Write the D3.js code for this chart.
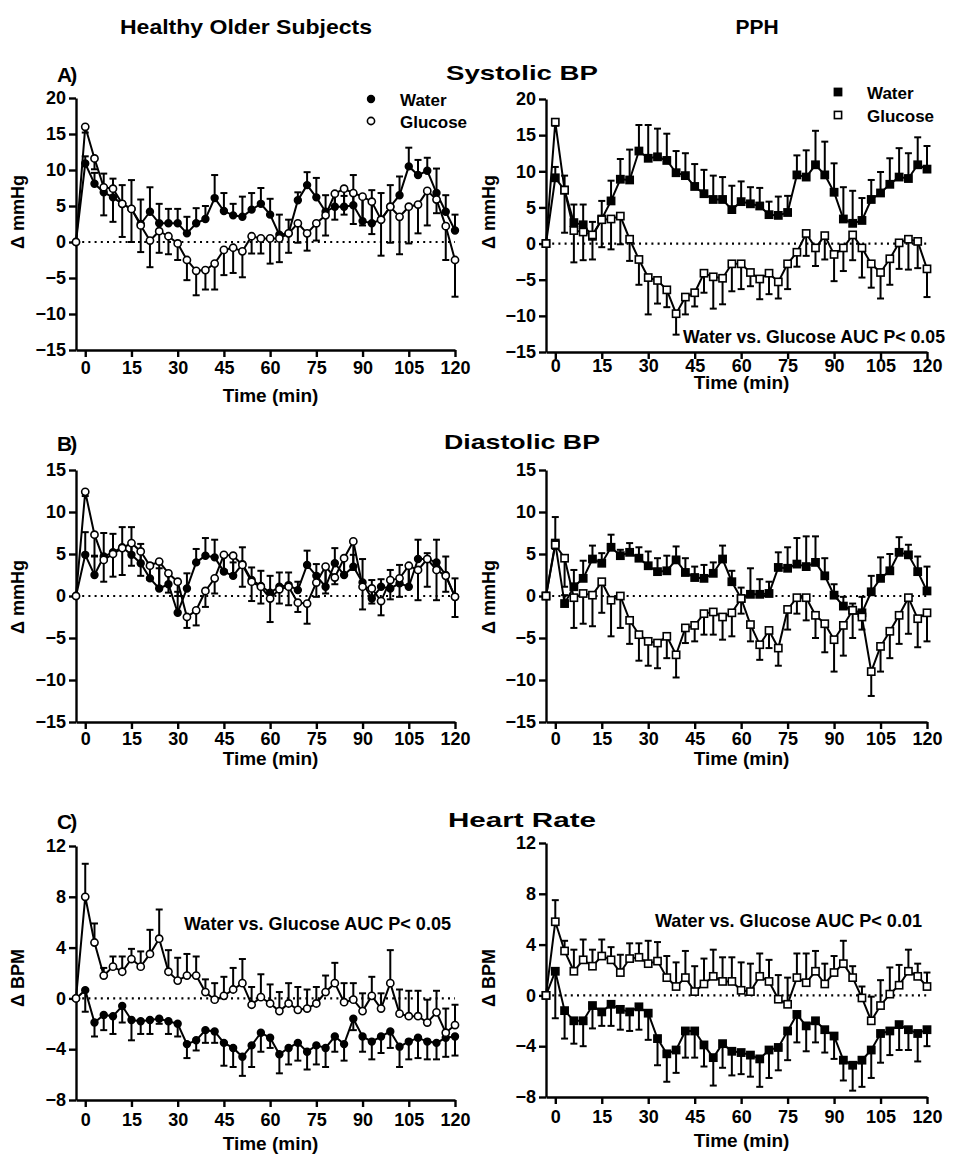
<!DOCTYPE html>
<html><head><meta charset="utf-8">
<script src="https://cdn.jsdelivr.net/npm/d3@7"></script>
<style>
body{margin:0;background:#fff;}
svg text{font-family:"Liberation Sans",Arial,sans-serif;font-weight:bold;fill:#000;}
</style></head><body>
<svg id="chart" width="957" height="1160"></svg>
<script>
// ---------------- DATA ----------------
const times = [-3,0,3,6,9,12,15,18,21,24,27,30,33,36,39,42,45,48,51,54,57,60,63,66,69,72,75,78,81,84,87,90,93,96,99,102,105,108,111,114,117,120];
const xTicks = [0,15,30,45,60,75,90,105,120];
const sbpTicks = [-15,-10,-5,0,5,10,15,20];
const dbpTicks = [-15,-10,-5,0,5,10,15];
const hrTicks = [-8,-4,0,4,8,12];
const seriesNames = ["Water","Glucose"];
const columnTitles = ["Healthy Older Subjects","PPH"];
const rowTitles = ["Systolic  BP","Diastolic BP","Heart  Rate"];
const rowLetters = ["A)","B)","C)"];
const auc = ["Water vs. Glucose AUC P< 0.05","Water vs. Glucose AUC P< 0.05","Water vs. Glucose AUC P< 0.01"];

// Systolic BP - healthy older
const sbpHealthyWater   = [0,10.9,8.1,6.9,6.2,5.3,4.6,2.5,4.2,2.6,2.6,2.6,1.2,2.6,3.2,6.1,4.3,3.7,3.5,4.5,5.3,3.8,1.0,1.2,5.8,7.9,6.2,4.2,4.9,4.9,5.1,2.9,2.6,3.1,4.9,6.5,10.5,9.3,9.9,6.8,4.2,1.6];
const sbpHealthyWaterErr= [0,1.0,1.5,2.6,2.6,2.6,4.0,3.4,3.4,2.7,2.0,2.0,2.3,2.1,1.8,3.2,2.5,1.6,2.8,2.3,2.2,2.2,2.8,1.9,1.1,1.8,2.7,2.3,2.0,1.5,4.2,3.3,4.6,3.7,3.0,2.6,2.6,2.1,1.8,3.4,2.3,2.2];
const sbpHealthyGluc    = [0,16.0,11.6,7.6,7.4,5.3,4.6,2.3,0.2,1.5,0.8,-0.2,-2.5,-4.0,-3.9,-3.0,-1.1,-0.8,-1.3,0.8,0.5,0.5,0.5,1.2,2.6,1.2,2.6,3.7,6.7,7.4,6.8,6.3,5.6,3.1,4.9,3.5,4.9,5.2,7.1,5.9,2.2,-2.5];
const sbpHealthyGlucErr = [0,0.8,1.5,3.9,4.6,4.6,4.6,3.7,3.7,3.0,2.5,2.3,2.8,3.4,2.7,3.6,3.5,3.5,3.6,2.4,2.1,3.5,3.3,2.7,2.7,2.4,2.4,2.8,3.6,3.6,4.3,4.0,4.5,5.0,5.0,5.2,5.1,4.0,4.8,1.9,4.7,5.1];
// Systolic BP - PPH
const sbpPphWater   = [0,9.1,7.4,2.9,2.6,1.0,3.4,5.9,8.9,8.8,12.8,11.8,12.0,11.5,9.8,9.4,7.9,6.9,6.1,6.1,4.7,5.8,5.5,5.2,4.0,3.9,4.3,9.5,9.2,10.9,9.5,7.1,3.4,2.8,3.2,6.1,7.0,8.2,9.2,9.0,10.9,10.3];
const sbpPphWaterErr= [0,1.5,2.0,2.5,2.8,2.0,2.5,2.8,2.8,4.2,3.6,4.6,3.9,3.7,3.0,3.1,3.1,3.3,3.3,3.1,3.3,2.8,2.3,2.5,1.8,2.6,2.3,2.7,3.7,4.7,4.6,4.0,4.4,4.5,3.1,2.7,2.9,3.6,4.0,3.5,3.8,3.2];
const sbpPphGluc    = [0,16.8,7.4,1.8,1.6,1.2,3.3,3.4,3.8,0.6,-2.2,-4.7,-5.1,-6.4,-9.7,-7.4,-6.8,-4.1,-4.6,-4.8,-2.8,-2.8,-4.0,-4.9,-4.1,-5.3,-2.8,-1.2,1.4,-0.6,1.1,-1.5,-0.6,1.2,-0.6,-2.8,-4.0,-2.1,0.1,0.6,0.3,-3.5];
const sbpPphGlucErr = [0,0.5,5.9,4.4,3.9,3.4,3.8,4.2,3.9,3.0,3.5,5.1,3.2,2.4,2.9,2.4,1.9,2.7,4.4,3.6,3.8,3.5,1.9,2.8,2.9,2.3,3.5,2.0,3.1,2.5,3.3,3.7,3.2,3.5,4.1,3.3,3.6,3.6,3.6,4.2,3.7,3.9];
// Diastolic BP - healthy older
const dbpHealthyWater   = [0,4.9,2.5,4.7,5.2,5.8,4.9,3.9,2.1,0.9,1.4,-2.0,0.9,4.0,4.8,4.6,2.9,2.4,3.8,1.9,1.2,0.4,1.1,1.3,0.7,3.7,2.4,1.1,3.9,2.5,3.5,1.6,-0.3,1.1,0.9,1.5,1.1,4.4,4.4,4.0,2.5,-0.1];
const dbpHealthyWaterErr= [0,2.7,2.3,2.8,2.2,2.4,3.3,2.3,1.8,2.4,1.4,2.5,1.8,1.6,2.1,2.1,2.0,1.6,2.0,1.5,1.8,2.0,1.7,1.5,1.0,1.7,1.4,2.6,1.8,2.0,1.4,2.8,2.2,0.9,2.2,2.2,2.2,2.3,0.7,2.7,2.2,2.2];
const dbpHealthyGluc    = [0,12.4,7.3,4.3,5.0,5.7,6.3,5.3,3.6,4.1,2.7,1.7,-2.5,-1.7,0.6,2.1,4.9,4.8,3.7,1.7,1.1,-0.3,0.8,1.1,-0.8,-0.9,1.6,3.5,2.2,4.5,6.5,1.1,0.9,-0.6,1.9,2.1,3.6,3.1,4.4,3.1,2.4,-0.1];
const dbpHealthyGlucErr = [0,0.5,2.6,2.6,2.7,3.2,2.7,2.9,1.7,3.0,2.3,1.7,1.3,1.8,1.9,1.8,1.8,2.5,2.6,2.3,2.0,2.8,1.7,2.2,1.1,2.4,1.7,3.2,0.8,2.0,3.4,2.7,1.8,1.7,2.3,2.2,2.5,3.6,3.3,3.6,1.9,2.4];
// Diastolic BP - PPH
const dbpPphWater   = [0,6.3,-0.9,1.1,2.1,4.4,3.9,5.8,4.8,5.2,4.5,3.6,2.9,3.0,4.3,2.8,2.2,2.1,2.7,4.4,1.7,-0.3,0.2,0.2,0.3,3.4,3.3,3.8,3.5,4.0,2.4,0.1,-1.2,-1.7,-2.0,0.5,2.1,3.0,5.2,4.9,2.9,0.6];
const dbpPphWaterErr= [0,3.1,1.0,2.0,2.1,1.6,1.2,1.5,0.7,1.1,1.3,1.7,1.6,1.8,1.6,1.7,1.3,1.6,1.3,1.6,1.3,1.3,3.1,1.8,1.4,1.8,2.5,3.1,3.6,3.1,2.1,1.3,1.1,0.8,1.9,1.9,2.5,2.0,1.8,1.2,1.8,2.9];
const dbpPphGluc    = [0,6.1,4.5,-0.2,0.3,0.1,1.7,-0.5,0,-2.9,-4.6,-5.4,-5.6,-4.8,-7.0,-3.8,-3.5,-2.1,-1.9,-2.5,-2.0,-0.3,-3.4,-5.8,-4.1,-6.2,-1.6,-0.2,-0.2,-2.3,-3.3,-5.2,-3.5,-1.7,-2.5,-9.0,-6.0,-4.2,-2.3,-0.2,-2.7,-2.0];
const dbpPphGlucErr = [0,0.5,3.4,3.6,3.6,3.7,3.7,4.3,3.8,2.8,3.1,2.9,3.0,2.6,2.7,1.8,1.9,2.5,2.7,2.7,2.8,1.8,2.0,1.8,2.1,2.1,2.4,1.9,2.7,2.7,3.4,3.8,3.6,3.3,1.5,2.9,3.0,3.2,3.4,4.3,3.4,3.4];
// Heart rate - healthy older
const hrHealthyWater   = [0,0.65,-1.9,-1.3,-1.4,-0.6,-1.7,-1.8,-1.7,-1.6,-1.8,-2.0,-3.6,-3.3,-2.5,-2.6,-3.5,-3.9,-4.6,-3.7,-2.7,-3.1,-4.4,-3.9,-3.5,-4.2,-3.7,-3.9,-3.0,-3.6,-1.6,-3.0,-3.4,-3.0,-2.6,-3.8,-3.4,-3.1,-3.4,-3.5,-3.1,-3.0];
const hrHealthyWaterErr= [0,1.7,1.1,1.2,1.4,1.3,1.6,1.0,1.1,0.4,1.0,1.0,1.1,0.8,1.0,0.9,1.8,1.5,1.5,1.7,1.5,0.8,1.5,1.3,1.4,1.4,1.5,1.5,1.2,1.3,0.9,1.2,1.4,1.3,1.3,1.6,1.4,1.6,1.4,1.3,1.5,1.5];
const hrHealthyGluc    = [0,8.0,4.4,1.8,2.5,2.1,3.1,2.5,3.5,4.7,2.1,1.4,1.8,1.8,0.5,-0.1,0.2,0.7,1.2,-0.5,0.1,-0.4,-1.0,-0.4,-0.9,-0.8,-0.4,0.5,1.2,-0.3,-0.1,-1.0,0.2,-0.8,1.2,-1.2,-1.4,-1.4,-1.9,-1.1,-2.7,-2.1];
const hrHealthyGlucErr = [0,2.6,1.5,0.6,0.8,1.2,0.8,1.2,1.9,2.3,1.7,1.8,1.7,1.5,1.0,1.3,1.5,1.7,1.9,1.4,1.8,1.5,1.5,1.6,1.8,1.5,1.3,1.3,1.6,1.5,1.3,1.4,1.5,1.2,2.6,1.9,2.0,2.0,1.8,1.7,1.9,1.6];
// Heart rate - PPH
const hrPphWater   = [0,1.9,-1.2,-2.0,-2.0,-0.8,-1.3,-0.7,-1.1,-1.3,-0.9,-1.4,-3.4,-4.6,-4.3,-2.8,-2.8,-3.9,-4.9,-3.8,-4.4,-4.5,-4.7,-5.0,-4.3,-4.1,-2.8,-1.5,-2.4,-2.0,-2.7,-3.2,-5.1,-5.5,-5.1,-4.3,-3.0,-2.8,-2.3,-2.7,-3.0,-2.7];
const hrPphWaterErr= [0,3.7,2.2,1.8,2.0,1.8,1.1,1.7,1.6,1.5,1.8,2.1,2.1,2.2,1.8,2.1,2.1,1.7,2.2,1.9,1.9,1.7,1.7,2.2,2.2,1.8,2.3,2.2,2.0,1.7,1.8,1.8,1.6,2.0,2.1,2.2,2.3,1.9,2.0,1.6,2.2,1.3];
const hrPphGluc    = [0,5.8,3.5,1.9,2.8,2.3,3.1,2.8,1.8,2.9,3.0,2.5,2.7,1.4,0.7,1.4,0.3,0.9,1.5,1.1,1.1,0.4,0.3,1.5,1.1,-0.3,-0.7,1.4,1.0,1.9,0.9,1.8,2.5,1.4,-0.2,-2.0,-0.8,0.1,0.8,1.9,1.5,0.7];
const hrPphGlucErr = [0,1.7,0.8,1.7,1.6,1.3,1.3,1.0,1.4,1.2,1.1,1.8,1.5,1.7,1.9,2.1,2.0,2.0,2.1,1.9,1.9,2.2,2.2,1.8,1.7,1.9,2.1,1.9,2.3,1.6,1.6,1.3,1.8,0.9,0.9,1.9,2.0,2.1,1.6,1.7,1.0,1.1];

// ---------------- LAYOUT ----------------
const svg = d3.select("#chart");
const LEFT = [76, 455], RIGHT = [546, 927];

const panels = [
  {xr:LEFT,  yr:[350,98],  dom:[-15,20], ticks:sbpTicks, shape:"circle", w:sbpHealthyWater, we:sbpHealthyWaterErr, g:sbpHealthyGluc, ge:sbpHealthyGlucErr, wDir:1, gDir:-1, pad:4, titleY:402, ylab:"Δ mmHg", ylx:24, yly:212},
  {xr:RIGHT, yr:[352,99],  dom:[-15,20], ticks:sbpTicks, shape:"square", w:sbpPphWater, we:sbpPphWaterErr, g:sbpPphGluc, ge:sbpPphGlucErr, wDir:1, gDir:-1, pad:0, titleY:389, ylab:"Δ mmHg", ylx:495, yly:212},
  {xr:LEFT,  yr:[722,470], dom:[-15,15], ticks:dbpTicks, shape:"circle", w:dbpHealthyWater, we:dbpHealthyWaterErr, g:dbpHealthyGluc, ge:dbpHealthyGlucErr, wDir:1, gDir:-1, pad:3, titleY:765, ylab:"Δ mmHg", ylx:24, yly:597},
  {xr:RIGHT, yr:[722,470], dom:[-15,15], ticks:dbpTicks, shape:"square", w:dbpPphWater, we:dbpPphWaterErr, g:dbpPphGluc, ge:dbpPphGlucErr, wDir:1, gDir:-1, pad:3, titleY:765, ylab:"Δ mmHg", ylx:495, yly:597},
  {xr:LEFT,  yr:[1100,846],dom:[-8,12],  ticks:hrTicks,  shape:"circle", w:hrHealthyWater, we:hrHealthyWaterErr, g:hrHealthyGluc, ge:hrHealthyGlucErr, wDir:-1, gDir:1, pad:6, titleY:1150, ylab:"Δ BPM", ylx:24, yly:978},
  {xr:RIGHT, yr:[1097,843],dom:[-8,12],  ticks:hrTicks,  shape:"square", w:hrPphWater, we:hrPphWaterErr, g:hrPphGluc, ge:hrPphGlucErr, wDir:-1, gDir:1, pad:6, titleY:1147, ylab:"Δ BPM", ylx:495, yly:978}
];

function drawPanel(p){
  const x = d3.scaleLinear().domain([-3,120]).range(p.xr);
  const y = d3.scaleLinear().domain(p.dom).range(p.yr);
  const g = svg.append("g");

  // zero dotted line
  g.append("line").attr("x1",x(-3)).attr("x2",x(120)).attr("y1",y(0)).attr("y2",y(0))
    .attr("stroke","#000").attr("stroke-width",2.2).attr("stroke-dasharray","2,4.2");

  // axes
  const ya = g.append("g").attr("transform",`translate(${p.xr[0]},0)`)
    .call(d3.axisLeft(y).tickValues(p.ticks).tickSize(7).tickSizeOuter(0).tickPadding(3));
  const xa = g.append("g").attr("transform",`translate(0,${p.yr[0]})`)
    .call(d3.axisBottom(x).tickValues(xTicks).tickSize(7).tickSizeOuter(0).tickPadding(p.pad));
  [ya,xa].forEach(a=>{
    a.selectAll("path.domain").attr("stroke","#000").attr("stroke-width",2.4);
    a.selectAll(".tick line").attr("stroke","#000").attr("stroke-width",2.4);
    a.selectAll(".tick text").style("font-size","18px").style("font-family",'"Liberation Sans",Arial,sans-serif').style("font-weight","bold").attr("fill","#000");
  });

  // axis titles
  svg.append("text").attr("x",(p.xr[0]+p.xr[1])/2+5).attr("y",p.titleY).attr("text-anchor","middle")
    .style("font-size","19px").text("Time (min)");
  svg.append("text").attr("transform",`translate(${p.ylx},${p.yly}) rotate(-90)`).attr("text-anchor","middle")
    .style("font-size","18px").text(p.ylab);

  const series = [
    {v:p.w, e:p.we, dir:p.wDir, fill:"#000"},
    {v:p.g, e:p.ge, dir:p.gDir, fill:"#fff"}
  ];
  const line = d3.line().x((d,i)=>x(times[i])).y(d=>y(d));
  series.forEach(s=>{
    g.append("path").datum(s.v).attr("d",line).attr("fill","none").attr("stroke","#000").attr("stroke-width",2);
  });
  series.forEach(s=>{
    const eb = g.append("g").attr("stroke","#000").attr("stroke-width",2);
    s.v.forEach((v,i)=>{
      if(!s.e[i]) return;
      const xx = x(times[i]), y1 = y(v), y2 = y(v + s.dir*s.e[i]);
      eb.append("line").attr("x1",xx).attr("x2",xx).attr("y1",y1).attr("y2",y2);
      eb.append("line").attr("x1",xx-3.5).attr("x2",xx+3.5).attr("y1",y2).attr("y2",y2);
    });
  });
  series.forEach(s=>{
    const mg = g.append("g");
    s.v.forEach((v,i)=>{
      const xx = x(times[i]), yy = y(v);
      if(p.shape==="circle"){
        mg.append("circle").attr("cx",xx).attr("cy",yy).attr("r",s.fill==="#000"?3.4:3.6)
          .attr("fill",s.fill).attr("stroke","#000").attr("stroke-width",1.6);
      } else {
        mg.append("rect").attr("x",xx-3.6).attr("y",yy-3.6).attr("width",7.2).attr("height",7.2)
          .attr("fill",s.fill).attr("stroke","#000").attr("stroke-width",1.6);
      }
    });
  });
}
panels.forEach(drawPanel);

// headers
svg.append("text").attr("x",246).attr("y",34).attr("text-anchor","middle").style("font-size","21px")
  .attr("textLength",252).attr("lengthAdjust","spacingAndGlyphs").text(columnTitles[0]);
svg.append("text").attr("x",757).attr("y",34).attr("text-anchor","middle").style("font-size","21px").text(columnTitles[1]);

const rowY = [80, 449, 827];
const rowW = [152, 156, 148];
rowTitles.forEach((t,i)=>{
  svg.append("text").attr("x",522).attr("y",rowY[i]).attr("text-anchor","middle").style("font-size","21px")
    .attr("textLength",rowW[i]).attr("lengthAdjust","spacingAndGlyphs").text(t);
  svg.append("text").attr("x",57).attr("y",rowY[i]+2).style("font-size","21px").style("letter-spacing","-2px").text(rowLetters[i]);
});

// legends
function legend(x0, yW, yG, shape){
  [[yW,"#000",seriesNames[0]],[yG,"#fff",seriesNames[1]]].forEach(([yy,f,name])=>{
    if(shape==="circle") svg.append("circle").attr("cx",x0).attr("cy",yy).attr("r",f==="#000"?3.4:3.6).attr("fill",f).attr("stroke","#000").attr("stroke-width",1.6);
    else svg.append("rect").attr("x",x0-3.6).attr("y",yy-3.6).attr("width",7.2).attr("height",7.2).attr("fill",f).attr("stroke","#000").attr("stroke-width",1.6);
    svg.append("text").attr("x",x0+29).attr("y",yy+6.5).style("font-size","17px").text(name);
  });
}
legend(371, 99, 121, "circle");
legend(838, 92, 115, "square");

// AUC annotations
const aucPos = [[683,343],[184,930],[655,927]];
auc.forEach((t,i)=>{
  svg.append("text").attr("x",aucPos[i][0]).attr("y",aucPos[i][1])
    .style("font-family",'"Liberation Sans Narrow","Liberation Sans",Arial,sans-serif').style("font-size","19px")
    .attr("textLength",i===0?262:267).attr("lengthAdjust","spacingAndGlyphs").text(t);
});
</script>
</body></html>
